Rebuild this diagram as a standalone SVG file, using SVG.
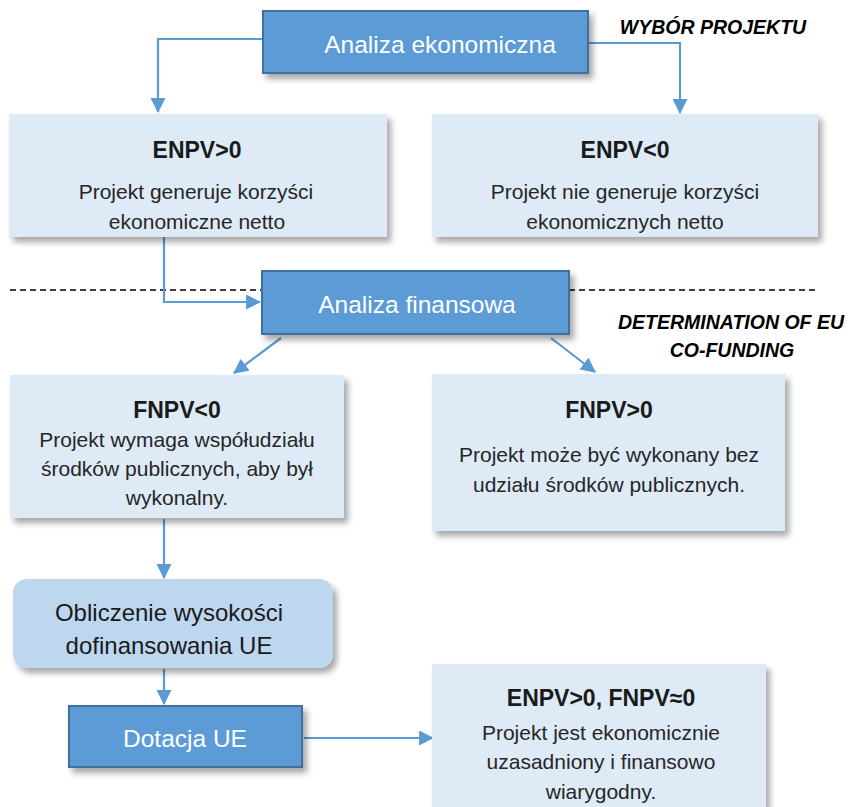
<svg xmlns="http://www.w3.org/2000/svg" width="852" height="807" viewBox="0 0 852 807">
<defs>
  <filter id="sh" x="-10%" y="-10%" width="125%" height="130%">
    <feDropShadow dx="4" dy="5" stdDeviation="3" flood-color="#000" flood-opacity="0.35"/>
  </filter>
  <marker id="ah" viewBox="0 0 14 14" refX="13" refY="7" markerWidth="15" markerHeight="15" markerUnits="userSpaceOnUse" orient="auto">
    <path d="M0,0 L14,7 L0,14 Z" fill="#5B9BD5"/>
  </marker>
  <style>
    .dark { fill: #5B9BD5; stroke: #41719C; stroke-width: 2; }
    .light { fill: #DEEAF6; }
    .mid { fill: #BDD7EE; }
    .wt { font-family: "Liberation Sans", Arial, sans-serif; font-size: 24.5px; fill: #FFFFFF; text-anchor: middle; }
    .tt { font-family: "Liberation Sans", Arial, sans-serif; font-size: 23px; font-weight: bold; fill: #1a1a1a; text-anchor: middle; }
    .bt { font-family: "Liberation Sans", Arial, sans-serif; font-size: 21px; fill: #262626; text-anchor: middle; }
    .mt { font-family: "Liberation Sans", Arial, sans-serif; font-size: 24px; fill: #1a1a1a; text-anchor: middle; }
    .lbl { font-family: "Liberation Sans", Arial, sans-serif; font-size: 19.5px; font-weight: bold; font-style: italic; fill: #000; text-anchor: middle; }
    .conn { fill: none; stroke: #5B9BD5; stroke-width: 2.2; }
    .dash { fill: none; stroke: #000; stroke-width: 1.5; stroke-dasharray: 6 4; }
  </style>
</defs>
<rect width="852" height="807" fill="#FFFFFF"/>

<g id="separator">
  <line class="dash" x1="10" y1="290" x2="262" y2="290"/>
  <line class="dash" x1="569" y1="290" x2="818" y2="290"/>
</g>

<g id="label-wybor">
  <text class="lbl" x="713" y="34">WYBÓR PROJEKTU</text>
</g>
<g id="label-determination">
  <text class="lbl" x="731" y="329">DETERMINATION OF EU</text>
  <text class="lbl" x="732" y="357">CO-FUNDING</text>
</g>

<g id="connectors">
  <path class="conn" d="M263,39 H158 V112" marker-end="url(#ah)"/>
  <path class="conn" d="M588,43 H680 V113" marker-end="url(#ah)"/>
  <path class="conn" d="M164,237 V302 H260" marker-end="url(#ah)"/>
  <path class="conn" d="M281,338 L234,373" marker-end="url(#ah)"/>
  <path class="conn" d="M551,338 L595,372" marker-end="url(#ah)"/>
  <path class="conn" d="M164,519 V578" marker-end="url(#ah)"/>
  <path class="conn" d="M164,669 V704" marker-end="url(#ah)"/>
  <path class="conn" d="M304,738 H433" marker-end="url(#ah)"/>
</g>

<g id="analiza-ekonomiczna">
  <rect class="dark" x="263" y="11" width="325" height="62" filter="url(#sh)"/>
  <text class="wt" x="440" y="53">Analiza ekonomiczna</text>
</g>

<g id="enpv-pos">
  <rect class="light" x="9" y="114" width="378" height="123" filter="url(#sh)"/>
  <text class="tt" x="197" y="158">ENPV&gt;0</text>
  <text class="bt" x="196" y="199">Projekt generuje korzyści</text>
  <text class="bt" x="197" y="229">ekonomiczne netto</text>
</g>

<g id="enpv-neg">
  <rect class="light" x="432" y="114" width="386" height="123" filter="url(#sh)"/>
  <text class="tt" x="625" y="158">ENPV&lt;0</text>
  <text class="bt" x="625" y="199">Projekt nie generuje korzyści</text>
  <text class="bt" x="625" y="229">ekonomicznych netto</text>
</g>

<g id="analiza-finansowa">
  <rect class="dark" x="262" y="271" width="307" height="63" filter="url(#sh)"/>
  <text class="wt" x="417" y="313">Analiza finansowa</text>
</g>

<g id="fnpv-neg">
  <rect class="light" x="10" y="375" width="334" height="143" filter="url(#sh)"/>
  <text class="tt" x="177" y="418">FNPV&lt;0</text>
  <text class="bt" x="177" y="447">Projekt wymaga współudziału</text>
  <text class="bt" x="177" y="476">środków publicznych, aby był</text>
  <text class="bt" x="177" y="505">wykonalny.</text>
</g>

<g id="fnpv-pos">
  <rect class="light" x="432" y="374" width="353" height="157" filter="url(#sh)"/>
  <text class="tt" x="609" y="418">FNPV&gt;0</text>
  <text class="bt" x="609" y="462">Projekt może być wykonany bez</text>
  <text class="bt" x="609" y="492">udziału środków publicznych.</text>
</g>

<g id="obliczenie">
  <rect class="mid" x="13" y="579" width="320" height="89" rx="14" ry="14" filter="url(#sh)"/>
  <text class="mt" x="169" y="621">Obliczenie wysokości</text>
  <text class="mt" x="169" y="654">dofinansowania UE</text>
</g>

<g id="dotacja">
  <rect class="dark" x="69" y="706" width="233" height="61" filter="url(#sh)"/>
  <text class="wt" x="185" y="747">Dotacja UE</text>
</g>

<g id="wynik">
  <rect class="light" x="432" y="664" width="334" height="150" filter="url(#sh)"/>
  <text class="tt" x="601" y="706">ENPV&gt;0, FNPV≈0</text>
  <text class="bt" x="601" y="740">Projekt jest ekonomicznie</text>
  <text class="bt" x="601" y="769">uzasadniony i finansowo</text>
  <text class="bt" x="601" y="799">wiarygodny.</text>
</g>
</svg>
